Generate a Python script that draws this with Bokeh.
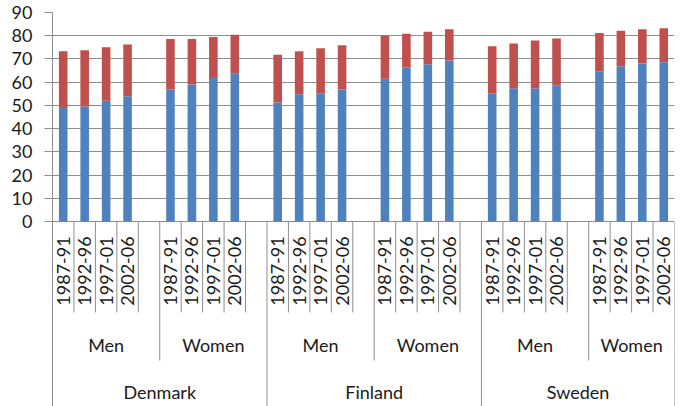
from bokeh.plotting import figure
from bokeh.models import Range1d, FixedTicker, ColumnDataSource
from bokeh.embed import file_html
from bokeh.resources import INLINE
from bokeh.core.properties import value
import math

countries = ["Denmark", "Finland", "Sweden"]
sexes = ["Men", "Women"]
periods = ["1987-91", "1992-96", "1997-01", "2002-06"]

# lower (blue) segment, order: country > sex > period
lower = [48.9, 49.5, 52.0, 53.9,   56.8, 59.0, 61.8, 63.6,
         51.2, 54.8, 55.2, 56.8,   61.5, 66.3, 67.7, 69.3,
         55.2, 57.4, 57.4, 58.5,   64.7, 66.8, 68.0, 68.6]
# upper (red) segment
upper = [24.4, 24.2, 23.0, 22.3,   21.8, 19.6, 17.7, 16.8,
         20.6, 18.5, 19.4, 19.1,   18.6, 14.5, 14.0, 13.5,
         20.3, 19.2, 20.5, 20.3,   16.5, 15.3, 14.8, 14.6]

y_ticks = list(range(0, 91, 10))

FONT = "Lato"
FS = "18px"
GRID = "#8e8e8e"
BLUE = "#4F81BD"
RED = "#C0504D"
TXT = "#1a1a1a"

# category slots: each sex group = 4 periods + 1 gap slot (last group has no gap)
xs, plabels = [], []
sex_x, sex_lab = [], []
cty_x, cty_lab = [], []
n_slots = len(countries) * len(sexes) * (len(periods) + 1) - 1
for ci, c in enumerate(countries):
    start_c = ci * 2 * (len(periods) + 1)
    for si, s in enumerate(sexes):
        start_s = start_c + si * (len(periods) + 1)
        for pi, per in enumerate(periods):
            xs.append(start_s + pi + 0.5)
            plabels.append(per)
        span = min(len(periods) + 1, n_slots - start_s)
        sex_x.append(start_s + span / 2)
        sex_lab.append(s)
    end_c = min(start_c + 2 * (len(periods) + 1), n_slots)
    cty_x.append((start_c + end_c) / 2)
    cty_lab.append(c)

src = ColumnDataSource(dict(x=xs, lower=lower, upper=upper))

y_bottom = -79.7
y_top = 90
lvl1 = -39.2
lvl2 = -59.9

p = figure(width=691, height=406, x_range=Range1d(0, n_slots),
           y_range=Range1d(y_bottom, y_top), output_backend="svg",
           toolbar_location=None, x_axis_location=None,
           min_border_left=52, min_border_right=17, min_border_top=12,
           min_border_bottom=0)
p.outline_line_color = None
p.xgrid.visible = False
tk = FixedTicker(ticks=y_ticks)
p.yaxis.ticker = tk
p.ygrid.ticker = tk
p.ygrid.grid_line_color = GRID
p.yaxis.axis_line_color = GRID
p.yaxis.major_tick_line_color = GRID
p.yaxis.major_tick_in = 0
p.yaxis.major_tick_out = 8
p.yaxis.minor_tick_line_color = None
p.yaxis.major_label_standoff = 12
p.yaxis.major_label_text_font = FONT
p.yaxis.major_label_text_font_size = FS
p.yaxis.major_label_text_color = TXT

p.vbar_stack(["lower", "upper"], x="x", width=0.4, color=[BLUE, RED],
             line_color=None, source=src)

# divider lines under the axis
b1 = [k for k in range(1, n_slots) if k % 5 != 0]
p.segment(x0=b1, y0=[0] * len(b1), x1=b1, y1=[lvl1] * len(b1),
          line_color=GRID, line_width=1)
b2 = [k for k in range(5, n_slots, 10)]
p.segment(x0=b2, y0=[0] * len(b2), x1=b2, y1=[lvl2] * len(b2),
          line_color=GRID, line_width=1)
b3 = [k for k in range(10, n_slots, 10)] + [n_slots]
p.segment(x0=b3, y0=[0] * len(b3), x1=b3, y1=[y_bottom] * len(b3),
          line_color=GRID, line_width=1)

p.text(x=xs, y=[-6.4] * len(xs), text=plabels, angle=math.pi / 2,
       text_align="right", text_baseline="middle", text_font=value(FONT),
       text_font_size=FS, text_color=TXT)
p.text(x=sex_x, y=[-53.0] * len(sex_x), text=sex_lab,
       text_align="center", text_baseline="middle", text_font=value(FONT),
       text_font_size=FS, text_color=TXT)
p.text(x=cty_x, y=[-73.4] * len(cty_x), text=cty_lab,
       text_align="center", text_baseline="middle", text_font=value(FONT),
       text_font_size=FS, text_color=TXT)

open("out.html", "w").write(file_html(p, INLINE))
